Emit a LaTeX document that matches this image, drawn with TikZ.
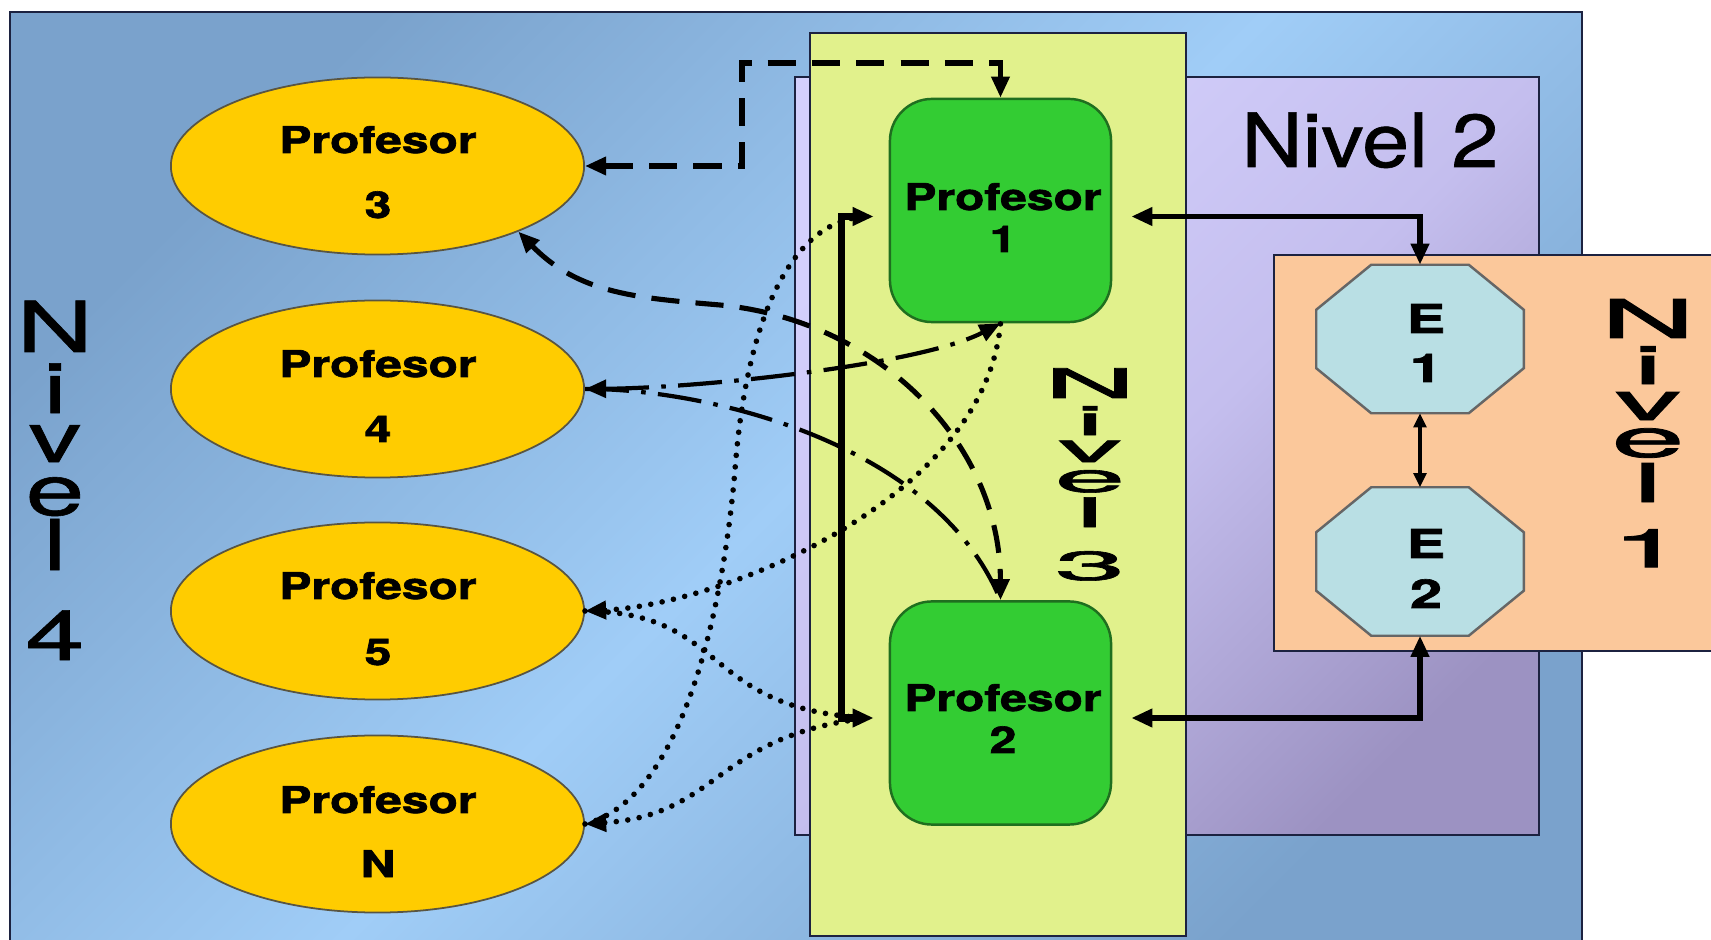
\documentclass[tikz,border=0pt]{standalone}
\usepackage{fontspec}
\setmainfont{TeX Gyre Heros}
\newfontfamily\heavyfont{TeX Gyre Heros}[FakeBold=1.6]
\newfontfamily\lvfont{TeX Gyre Heros}[FakeBold=0.8]
\newfontfamily\lvboldfont{TeX Gyre Heros}[FakeBold=1.4]
\usetikzlibrary{arrows.meta,shapes.geometric,calc}
\definecolor{blueD}{HTML}{7AA2CC}
\definecolor{blueL}{HTML}{A0CDF7}
\definecolor{lavL}{HTML}{D4D0FC}
\definecolor{lavM}{HTML}{C4BEEE}
\definecolor{lavD}{HTML}{9C92C2}
\definecolor{yel}{HTML}{E1F18C}
\definecolor{org}{HTML}{FBC89B}
\definecolor{gold}{HTML}{FFCC00}
\definecolor{grn}{HTML}{33CC33}
\definecolor{grnD}{HTML}{1F6F1F}
\definecolor{cyanL}{HTML}{B9DFE4}
\definecolor{edge}{HTML}{1C2240}
\newcommand{\profw}[1]{\scalebox{1.3}[1]{#1}}
% one letter of a vertical label: lowered by #1, widened by #2
\newcommand{\stk}[3]{\makebox[0pt]{\raisebox{-#1}{\scalebox{#2}[1]{#3}}}}
\begin{document}
\begin{tikzpicture}[x=0.01cm,y=-0.01cm,
  >={Triangle[length=6pt,width=5pt]},
  panel/.style={draw=edge,line width=0.6pt},
  profell/.style={ellipse,fill=gold,draw=black!75!yellow,line width=0.5pt,minimum width=4.13cm,minimum height=1.77cm,inner sep=0pt},
  profbox/.style={rectangle,rounded corners=0.42cm,fill=grn,draw=grnD,line width=0.7pt,minimum width=2.21cm,minimum height=2.23cm,inner sep=0pt},
  octbox/.style={rectangle,draw=none,minimum width=2.06cm,minimum height=1.47cm,inner sep=0pt},
  octline/.style={fill=cyanL,draw=black!60,line width=0.7pt},
  proftext/.style={anchor=base,inner sep=0pt,font=\heavyfont\bfseries\fontsize{10.5}{12}\selectfont},
  etext/.style={anchor=base,inner sep=0pt,font=\heavyfont\bfseries\fontsize{11.3}{13}\selectfont},
  lvfour/.style={anchor=base,inner sep=0pt,font=\lvfont\fontsize{20}{24}\selectfont},
  lvthree/.style={anchor=base,inner sep=0pt,font=\lvboldfont\fontsize{11.6}{14}\selectfont},
  lvone/.style={anchor=base,inner sep=0pt,font=\lvboldfont\fontsize{15.2}{18}\selectfont},
  dashc/.style={line width=1.45pt,dash pattern=on 8pt off 4.6pt},
  dashdotc/.style={line width=1.2pt,dash pattern=on 12.5pt off 3.5pt on 1.3pt off 3.5pt},
  dotc/.style={line width=1.6pt,line cap=round,dash pattern=on 0pt off 3.3pt},
  solidc/.style={line width=1.5pt},
  thinc/.style={line width=0.9pt,>={Triangle[length=4pt,width=3.6pt]}}
]
\clip (0,0) rectangle (1711,940);
\fill[white] (0,0) rectangle (1711,940);
% Nivel 4 panel
\shade[top color=blueD,bottom color=blueD,middle color=blueL,shading angle=45] (10,12) rectangle (1582,960);
\draw[panel] (10,960) -- (10,12) -- (1582,12) -- (1582,960);
% Nivel 2 panel
\shade[top color=lavL,bottom color=lavD,middle color=lavM,shading angle=45] (795,77) rectangle (1539,835);
\draw[panel] (795,77) rectangle (1539,835);
% Nivel 3 panel
\fill[yel] (810,33) rectangle (1186,936);
\draw[panel] (810,33) rectangle (1186,936);
% Nivel 1 panel
\fill[org] (1274,255) rectangle (1730,651);
\draw[panel] (1274,255) rectangle (1730,651);

% level labels
\node[anchor=base,inner sep=0pt,font=\lvfont\fontsize{21.3}{24}\selectfont] (ntwo) at (1370,167) {\scalebox{1.13}[1]{Nivel 2}};
\node[lvfour] (nfour) at (55,352) {\stk{0cm}{1.5}{N}\stk{0.61cm}{1.5}{i}\stk{1.10cm}{1.5}{v}\stk{1.63cm}{1.5}{e}\stk{2.18cm}{1.5}{l}\stk{3.08cm}{1.5}{4}};
\node[lvthree] (nthree) at (1090,398) {\stk{0cm}{3.1}{N}\stk{0.37cm}{3.1}{i}\stk{0.64cm}{3.1}{v}\stk{0.94cm}{3.1}{e}\stk{1.29cm}{3.1}{l}\stk{1.82cm}{3.1}{3}};
\node[lvone] (none) at (1648,338) {\stk{0cm}{2.45}{N}\stk{0.46cm}{2.45}{i}\stk{0.82cm}{2.45}{v}\stk{1.19cm}{2.45}{e}\stk{1.64cm}{2.45}{l}\stk{2.29cm}{2.45}{1}};

% teacher ellipses
\node[profell] (e3) at (377.5,166) {};
\node[profell] (e4) at (377.5,389) {};
\node[profell] (e5) at (377.5,611) {};
\node[profell] (eN) at (377.5,824) {};
\node[proftext] (e3a) at (378,153) {\profw{Profesor}};
\node[proftext] (e3b) at (378,218) {\profw{3}};
\node[proftext] (e4a) at (378,377) {\profw{Profesor}};
\node[proftext] (e4b) at (378,442) {\profw{4}};
\node[proftext] (e5a) at (378,599) {\profw{Profesor}};
\node[proftext] (e5b) at (378,665) {\profw{5}};
\node[proftext] (eNa) at (378,813) {\profw{Profesor}};
\node[proftext] (eNb) at (378,877) {\profw{N}};

% green boxes
\node[profbox] (p1) at (1000.5,210.5) {};
\node[profbox] (p2) at (1000.5,713) {};
\node[proftext] (p1a) at (1003,210) {\profw{Profesor}};
\node[proftext] (p1b) at (1003,252) {\profw{1}};
\node[proftext] (p2a) at (1003,711) {\profw{Profesor}};
\node[proftext] (p2b) at (1003,753) {\profw{2}};

% octagons
\node[octbox] (e1) at (1420,339) {};
\node[octbox] (e2) at (1420,561.5) {};
\foreach \o in {e1,e2}
  \filldraw[octline] ($(\o.north west)+(55,0)$) -- ($(\o.north east)+(-55,0)$) -- ($(\o.north east)+(0,45)$) -- ($(\o.south east)+(0,-45)$) -- ($(\o.south east)+(-55,0)$) -- ($(\o.south west)+(55,0)$) -- ($(\o.south west)+(0,-45)$) -- ($(\o.north west)+(0,45)$) -- cycle;
\node[etext] (e1a) at (1426,333) {\scalebox{1.45}[1]{E}};
\node[etext] (e1b) at (1426,382) {\scalebox{1.45}[1]{1}};
\node[etext] (e2a) at (1426,558) {\scalebox{1.45}[1]{E}};
\node[etext] (e2b) at (1426,608) {\scalebox{1.45}[1]{2}};

% dashed connectors
\coordinate (dk) at (742,63);
\draw[dashc,<->] (e3.east) -| (dk) -| (p1.north);
\draw[dashc,<->] (e3.-25) .. controls (579,294) and (638,298) .. (720,305) .. controls (878,320) and (1000,442) .. (p2.north);

% dash-dot connectors
\draw[dashdotc,<->] (e4.east) .. controls (700,388) and (920,365) .. (p1.south);
\draw[dashdotc] (e4.east) .. controls (700,388) and (935,440) .. (p2.north);

% dotted connectors
\draw[dotc,<-] (e5.east) .. controls (720,605) and (985,500) .. (p1.south);
\draw[dotc] (e5.east) .. controls (730,612) and (700,710) .. ($(p2.west)+(-20,5)$);
\draw[dotc] (eN.east) .. controls (680,800) and (722,620) .. (735,470) .. controls (748,300) and (800,217) .. ($(p1.west)+(-20,6)$);
\draw[dotc,<-] (eN.east) .. controls (720,815) and (715,735) .. ($(p2.west)+(-20,5)$);

% solid connectors
\draw[solidc,line width=2pt,<->] ($(p1.west)+(-15,6)$) -- ++(-32,0) |- ($(p2.west)+(-15,5)$);
\draw[solidc,<->] ($(p1.east)+(19,6)$) -| (e1.north);
\draw[solidc,<->] ($(p2.east)+(19,5)$) -| (e2.south);
\draw[thinc,<->] (e1.south) -- (e2.north);
\end{tikzpicture}
\end{document}
